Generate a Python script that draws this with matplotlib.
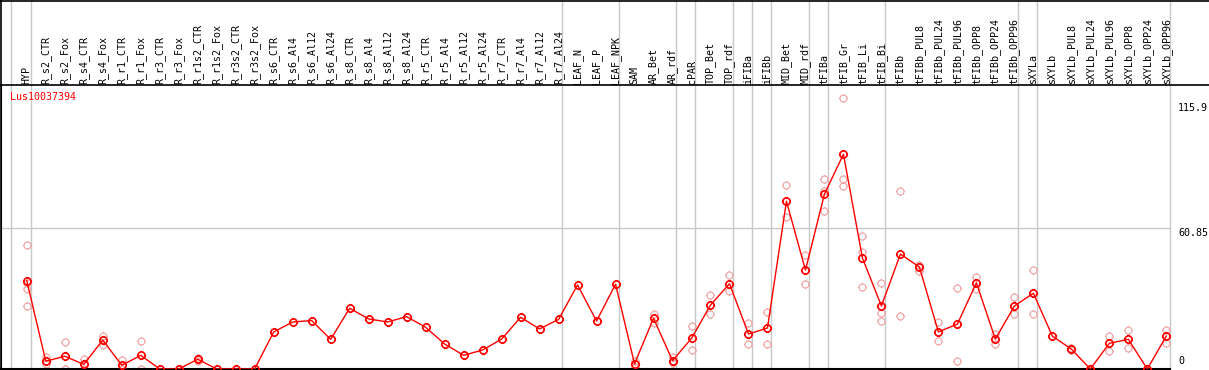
import matplotlib
matplotlib.use("Agg")
import matplotlib.pyplot as plt
from matplotlib.path import Path
from matplotlib.markers import MarkerStyle
from matplotlib.lines import Line2D
import numpy as np

categories = ["HYP", "R_s2_CTR", "R_s2_Fox", "R_s4_CTR", "R_s4_Fox", "R_r1_CTR", "R_r1_Fox",
              "R_r3_CTR", "R_r3_Fox", "R_r1s2_CTR", "R_r1s2_Fox", "R_r3s2_CTR", "R_r3s2_Fox",
              "R_s6_CTR", "R_s6_Al4", "R_s6_Al12", "R_s6_Al24", "R_s8_CTR", "R_s8_Al4",
              "R_s8_Al12", "R_s8_Al24", "R_r5_CTR", "R_r5_Al4", "R_r5_Al12", "R_r5_Al24",
              "R_r7_CTR", "R_r7_Al4", "R_r7_Al12", "R_r7_Al24", "LEAF_N", "LEAF_P", "LEAF_NPK",
              "SAM", "AR_Bet", "AR_rdf", "cPAR", "TOP_Bet", "TOP_rdf", "iFIBa", "iFIBb",
              "MID_Bet", "MID_rdf", "tFIBa", "tFIB_Gr", "tFIB_Li", "tFIB_Bi", "tFIBb",
              "tFIBb_PUL8", "tFIBb_PUL24", "tFIBb_PUL96", "tFIBb_OPP8", "tFIBb_OPP24",
              "tFIBb_OPP96", "sXYLa", "sXYLb", "sXYLb_PUL8", "sXYLb_PUL24", "sXYLb_PUL96",
              "sXYLb_OPP8", "sXYLb_OPP24", "sXYLb_OPP96"]

means = [38.1, 3.4, 5.5, 2.0, 12.5, 1.6, 5.9, 0, 0, 4.2, 0, 0, 0,
         16.0, 20.3, 20.9, 12.8, 26.2, 21.6, 20.3, 22.6, 18.0, 10.8, 5.9, 8.2,
         12.9, 22.3, 17.3, 21.4, 36.3, 20.7, 36.6, 2.2, 21.9, 3.6, 13.2, 27.6,
         36.8, 15.1, 17.7, 72.4, 42.7, 75.5, 92.7, 47.9, 27.2, 49.6, 44.0, 16.0,
         19.4, 37.2, 12.9, 27.2, 32.7, 14.2, 8.6, 0, 11.1, 12.8, 0, 14.2]

replicates = {
    0: [53.5, 37.0, 34.4, 27.2], 1: [5.3, 2.0], 2: [11.5, 0.0], 3: [4.3, 0.0],
    4: [14.4, 10.4], 5: [3.9, 0.0], 6: [12.1, 0.0], 9: [4.9, 3.5],
    32: [3.5, 1.0], 33: [23.7, 20.0], 34: [5.3, 2.7], 35: [18.6, 8.1],
    36: [31.8, 23.6], 37: [40.4, 33.8], 38: [19.7, 10.8], 39: [24.5, 10.8],
    40: [79.4, 65.6], 41: [49.1, 36.6], 42: [82.0, 76.8, 68.2],
    43: [116.8, 82.0, 79.0], 44: [57.3, 50.4, 35.4], 45: [37.0, 24.3, 20.6],
    46: [76.7, 22.9], 47: [44.9, 42.4], 48: [20.2, 11.9], 49: [35.0, 3.5],
    50: [39.7, 34.5], 51: [15.0, 10.9], 52: [31.1, 23.6], 53: [42.6, 23.6],
    55: [9.0, 8.2], 57: [14.1, 7.6], 58: [16.8, 8.9], 60: [16.8, 11.4],
}

group_ends = [0, 28, 31, 34, 35, 37, 38, 39, 41, 42, 45, 52, 53, 60]
gene = "Lus10037394"
y_ticks = [0, 60.85, 115.9]

W, H = 1209, 370
fig = plt.figure(figsize=(W / 100, H / 100), dpi=100)
ax_top_px = 85
ax_bot_px = 369
ax_right_px = 1170
ax = fig.add_axes([0.5 / W, (H - ax_bot_px) / H, (ax_right_px - 0.5) / W,
                   (ax_bot_px - ax_top_px) / H])
ax_h = ax_bot_px - ax_top_px

x = np.arange(len(categories))
ax.set_xlim(-26.3 / 19, (ax_right_px - 26.3) / 19)
ax.set_ylim(0, (ax_bot_px - ax_top_px) / 2.317)
ax.set_xticks([])
ax.set_yticks([])
for s in ["top", "right"]:
    ax.spines[s].set_visible(False)
ax.spines["left"].set_color("black")
ax.spines["bottom"].set_color("black")
ax.spines["bottom"].set_linewidth(1.5)

# marker: circle with four tiny outside ticks
circ = Path.circle((0, 0), 1.0)
tv = [(0, 1.0), (0, 1.28), (0, -1.0), (0, -1.28), (1.0, 0), (1.28, 0), (-1.0, 0), (-1.28, 0)]
tc = [Path.MOVETO, Path.LINETO] * 4
ticks = Path(tv, tc)
mpath = Path.make_compound_path(circ, ticks)
mk = MarkerStyle(mpath)

# grid & separators
ax.axhline(y_ticks[1], color="#c8c8c8", lw=1.0, zorder=0)
sep_positions = [-0.85] + [g + 0.2 for g in group_ends]
for sx in sep_positions:
    ax.axvline(sx, ymin=0, ymax=1 + ax_top_px / ax_h, color="#c8c8c8", lw=1.0,
               clip_on=False, zorder=0)

# replicates
rx, ry = [], []
for i, vals in replicates.items():
    for v in vals:
        rx.append(i)
        ry.append(v)
ax.plot(rx, ry, ls="none", marker=mk, ms=6.4, mfc="none", mec="#f0a0a0", mew=0.8,
        zorder=2)

# mean line
ax.plot(x, means, color="#ff0000", lw=1.0, zorder=3)
ax.plot(x, means, ls="none", marker=mk, ms=6.6, mfc="none", mec="#ff0000", mew=1.2,
        zorder=4)

FS = 7.2
# category labels in header
for i, c in enumerate(categories):
    ax.text(i, 1 + 1.5 / ax_h, c, rotation=90, ha="center", va="bottom",
            transform=ax.get_xaxis_transform(), fontsize=FS,
            family="DejaVu Sans Mono", color="black", clip_on=False)

# header lines
fig.add_artist(Line2D([0, 1], [1 - 0.5 / H, 1 - 0.5 / H], color="black", lw=1.2,
                      transform=fig.transFigure))
fig.add_artist(Line2D([0, 1], [1 - ax_top_px / H, 1 - ax_top_px / H], color="black",
                      lw=1.2, transform=fig.transFigure))
fig.add_artist(Line2D([0.5 / W, 0.5 / W], [0, 1], color="black", lw=1.2,
                      transform=fig.transFigure))

# y labels on the right
fig.text(1178 / W, 1 - 103 / H, "115.9", ha="left", va="top", fontsize=FS,
         family="DejaVu Sans Mono")
fig.text(1178 / W, 1 - 228 / H, "60.85", ha="left", va="top", fontsize=FS,
         family="DejaVu Sans Mono")
fig.text(1178 / W, 1 - 366 / H, "0", ha="left", va="bottom", fontsize=FS,
         family="DejaVu Sans Mono")

fig.text(10 / W, 1 - 92 / H, gene, ha="left", va="top", fontsize=FS,
         family="DejaVu Sans Mono", color="#ff0000")

fig.savefig("out.png", dpi=100)
